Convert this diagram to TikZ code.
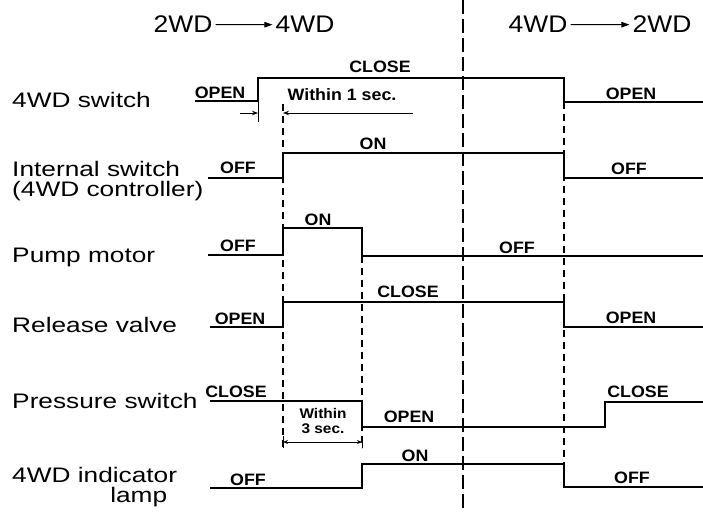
\documentclass[tikz,border=0pt]{standalone}
\usepackage{fontspec}
\setmainfont{Liberation Sans}
\usetikzlibrary{arrows.meta, positioning, calc}
\tikzset{
    signal/.style={line width=2pt, line join=miter},
    guide/.style={line width=1.3pt, dash pattern=on 7pt off 5pt},
    divider/.style={line width=1.4pt, dash pattern=on 14pt off 5pt},
    signame/.style={anchor=base west, inner sep=0pt, font=\fontsize{21}{20}\selectfont, xscale=1.25},
    heading/.style={anchor=base, inner sep=0pt, font=\fontsize{24}{24}\selectfont, xscale=1.1},
    state/.style={anchor=base, inner sep=0pt, font=\fontsize{16.5}{16}\selectfont\bfseries, xscale=1.08},
    note/.style={inner sep=0pt, align=center, font=\fontsize{14}{14.5}\selectfont\bfseries, xscale=1.1},
    headarrow/.style={line width=1pt, -{Triangle[length=8pt,width=5.5pt]}, shorten <=3pt, shorten >=3pt},
    dimarrow/.style={line width=1pt, -{Stealth[length=6pt,width=4.5pt]}}
}

\begin{document}
\begin{tikzpicture}[x=1pt, y=-1pt]
        \useasboundingbox (0,0) rectangle (703,511);

        % Headings
        \node (h2a) [heading] at (183,33) {2WD};
        \node (h4a) [heading] at (305,33) {4WD};
        \node (h4b) [heading] at (538,33) {4WD};
        \node (h2b) [heading] at (662,33) {2WD};
        \draw[headarrow] (h2a) -- (h4a);
        \draw[headarrow] (h4b) -- (h2b);

        % Signal names
        \node (n1) [signame] at (12,107) {4WD switch};
        \node (n2) [signame] at (12,176) {Internal switch};
        \node (n2b) [signame] at (12,196) {(4WD controller)};
        \node (n3) [signame] at (12,262) {Pump motor};
        \node (n4) [signame] at (12,332) {Release valve};
        \node (n5) [signame] at (12,408) {Pressure switch};
        \node (n6) [signame] at (12,482) {4WD indicator};
        \node (n6b) [signame] at (110,502) {lamp};

        % Divider and guide lines
        \draw[divider] (463,0) -- (463,511);
        \draw[guide] (283,104) -- (283,448);
        \draw[guide] (362,256) -- (362,448);
        \draw[guide] (564,102) -- (564,464);

        % Waveforms
        \draw[signal] (195,101) -- (258,101) -- (258,78) -- (564,78) -- (564,102) -- (703,102);
        \draw[signal] (208,178) -- (283,178) -- (283,153) -- (564,153) -- (564,178) -- (703,178);
        \draw[signal] (208,255) -- (283,255) -- (283,228) -- (362,228) -- (362,256) -- (703,256);
        \draw[signal] (210,327) -- (283,327) -- (283,302) -- (564,302) -- (564,327) -- (703,327);
        \draw[signal] (210,401) -- (362,401) -- (362,427) -- (605,427) -- (605,402) -- (703,402);
        \draw[signal] (210,488) -- (362,488) -- (362,464) -- (564,464) -- (564,487) -- (703,487);

        % States
        \node (s1a) [state] at (220,98) {OPEN};
        \node (s1b) [state] at (380,72) {CLOSE};
        \node (s1c) [state] at (631,99) {OPEN};
        \node (s2a) [state] at (238,173) {OFF};
        \node (s2b) [state] at (373,149) {ON};
        \node (s2c) [state] at (629,174) {OFF};
        \node (s3a) [state] at (238,251) {OFF};
        \node (s3b) [state] at (318,225) {ON};
        \node (s3c) [state] at (517,253) {OFF};
        \node (s4a) [state] at (240,324) {OPEN};
        \node (s4b) [state] at (408,297) {CLOSE};
        \node (s4c) [state] at (631,323) {OPEN};
        \node (s5a) [state] at (236,397) {CLOSE};
        \node (s5b) [state] at (409,422) {OPEN};
        \node (s5c) [state] at (638,397) {CLOSE};
        \node (s6a) [state] at (248,485) {OFF};
        \node (s6b) [state] at (415,461) {ON};
        \node (s6c) [state] at (632,483) {OFF};

        % Within 1 sec.
        \coordinate (d1a) at (240,113);
        \coordinate (d1b) at (258,113);
        \coordinate (d1c) at (413,113);
        \coordinate (d1d) at (283,113);
        \draw[line width=1pt] (258,101) -- (258,122);
        \draw[dimarrow] (d1a) -- (d1b);
        \draw[dimarrow] (d1c) -- (d1d);
        \node (w1) [state] at (342,100) {Within 1 sec.};

        % Within 3 sec.
        \coordinate (d2a) at (283,442);
        \coordinate (d2b) at (362,442);
        \draw[line width=1pt] (283,436) -- (283,448);
        \draw[line width=1pt] (362,436) -- (362,448);
        \draw[dimarrow, {Stealth[length=5pt,width=4pt]}-{Stealth[length=5pt,width=4pt]}] (d2a) -- (d2b);
        \node (w3) [note] at (323,421) {Within\\3 sec.};
\end{tikzpicture}
\end{document}
